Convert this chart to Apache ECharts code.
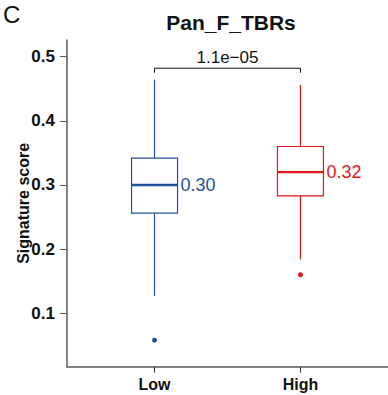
<!DOCTYPE html>
<html>
<head>
<meta charset="utf-8">
<script src="https://cdn.jsdelivr.net/npm/echarts@6/dist/echarts.min.js"></script>
<style>
  html, body { margin: 0; padding: 0; background: #ffffff; }
  #chart { width: 388px; height: 395px; }
</style>
</head>
<body>
<div id="chart"></div>
<script>
// Groups and their colours
const categories = ['Low', 'High'];
const groupColors = ['#23509b', '#e2161d'];

// Five-number summaries per group: [lower whisker, Q1, median, Q3, upper whisker]
const lowStats = [0.127, 0.256, 0.300, 0.342, 0.464];
const highStats = [0.184, 0.283, 0.320, 0.360, 0.456];
const medianLabels = ['0.30', '0.32'];

// Points beyond the whiskers
const lowOutliers = [0.058];
const highOutliers = [0.160];

// Y axis ticks and range
const yTicks = [0.1, 0.2, 0.3, 0.4, 0.5];
const yRange = [0.0167, 0.526];

// Significance bracket between the two groups
const pValueText = '1.1e\u221205';
const bracketSpan = [1, 2];
const bracketY = [0.475, 0.482];

const FONT = '"Liberation Sans", Arial, Helvetica, sans-serif';

const boxData = [lowStats, highStats].map((s, i) => [i + 1].concat(s));
const outlierData = []
  .concat(lowOutliers.map(v => ({ value: [1, v], itemStyle: { color: groupColors[0] } })))
  .concat(highOutliers.map(v => ({ value: [2, v], itemStyle: { color: groupColors[1] } })));

const chart = echarts.init(document.getElementById('chart'), null, { renderer: 'svg' });

chart.setOption({
  animation: false,
  backgroundColor: '#ffffff',
  graphic: [
    {
      type: 'text', left: 3, top: 2,
      style: { text: 'C', font: '24px ' + FONT, fill: '#111' }
    },
    {
      type: 'text', x: 231, y: 22.5,
      style: {
        text: 'Pan_F_TBRs', font: 'bold 21px ' + FONT, fill: '#111',
        textAlign: 'center', textVerticalAlign: 'middle'
      }
    }
  ],
  grid: { left: 67, top: 40, width: 328.7, height: 326.7 },
  xAxis: {
    type: 'value',
    min: 0.4,
    max: 2.6,
    splitLine: { show: false },
    axisLine: { show: true, lineStyle: { color: '#5a5a5a', width: 1.5 } },
    axisTick: { show: true, customValues: [1, 2], length: 6, lineStyle: { color: '#333', width: 1 } },
    axisLabel: {
      customValues: [1, 2],
      formatter: v => categories[Math.round(v) - 1],
      margin: 10,
      color: '#111',
      fontWeight: 'bold',
      fontSize: 16,
      fontFamily: FONT
    }
  },
  yAxis: {
    type: 'value',
    min: yRange[0],
    max: yRange[1],
    name: 'Signature score',
    nameLocation: 'middle',
    nameRotate: 90,
    nameGap: 36,
    nameMoveOverlap: false,
    nameTextStyle: { color: '#111', fontWeight: 'bold', fontSize: 16, fontFamily: FONT },
    splitLine: { show: false },
    axisLine: { show: true, lineStyle: { color: '#5a5a5a', width: 1.5 } },
    axisTick: { show: true, customValues: yTicks, length: 7, lineStyle: { color: '#5a5a5a', width: 1 } },
    axisLabel: {
      customValues: yTicks,
      formatter: v => v.toFixed(1),
      margin: 12,
      color: '#111',
      fontWeight: 'bold',
      fontSize: 17,
      fontFamily: FONT
    }
  },
  series: [
    {
      // Box, whiskers, median and median label for each group
      type: 'custom',
      data: boxData,
      encode: { x: 0, y: [1, 2, 3, 4, 5] },
      renderItem: function (params, api) {
        const x = api.value(0);
        const color = groupColors[params.dataIndex];
        const lo = api.coord([x, api.value(1)]);
        const q1 = api.coord([x, api.value(2)]);
        const md = api.coord([x, api.value(3)]);
        const q3 = api.coord([x, api.value(4)]);
        const hi = api.coord([x, api.value(5)]);
        const hw = 23;
        const thin = { stroke: color, lineWidth: 1.2, fill: null };
        return {
          type: 'group',
          children: [
            { type: 'line', shape: { x1: lo[0], y1: lo[1], x2: q1[0], y2: q1[1] }, style: thin },
            { type: 'line', shape: { x1: q3[0], y1: q3[1], x2: hi[0], y2: hi[1] }, style: thin },
            {
              type: 'rect',
              shape: { x: q3[0] - hw, y: q3[1], width: hw * 2, height: q1[1] - q3[1] },
              style: { stroke: color, lineWidth: 1.2, fill: '#ffffff' }
            },
            {
              type: 'line',
              shape: { x1: md[0] - hw, y1: md[1], x2: md[0] + hw, y2: md[1] },
              style: { stroke: color, lineWidth: 2.4 }
            },
            {
              type: 'text',
              x: md[0] + hw + 3,
              y: md[1],
              style: {
                text: medianLabels[params.dataIndex],
                fill: color,
                font: '18px ' + FONT,
                textAlign: 'left',
                textVerticalAlign: 'middle'
              }
            }
          ]
        };
      }
    },
    {
      type: 'scatter',
      data: outlierData,
      symbol: 'circle',
      symbolSize: 5,
      itemStyle: { opacity: 1 }
    },
    {
      // Comparison bracket and p-value
      type: 'custom',
      data: [[bracketSpan[0], bracketSpan[1], bracketY[0], bracketY[1]]],
      encode: { x: [0, 1], y: [2, 3] },
      renderItem: function (params, api) {
        const a0 = api.coord([api.value(0), api.value(2)]);
        const a1 = api.coord([api.value(0), api.value(3)]);
        const b1 = api.coord([api.value(1), api.value(3)]);
        const b0 = api.coord([api.value(1), api.value(2)]);
        return {
          type: 'group',
          children: [
            {
              type: 'polyline',
              shape: { points: [a0, a1, b1, b0] },
              style: { stroke: '#111', lineWidth: 1, fill: null }
            },
            {
              type: 'text',
              x: (a1[0] + b1[0]) / 2,
              y: a1[1] - 2,
              style: {
                text: pValueText,
                fill: '#111',
                font: '17px ' + FONT,
                textAlign: 'center',
                textVerticalAlign: 'bottom'
              }
            }
          ]
        };
      }
    }
  ]
});
</script>
</body>
</html>
